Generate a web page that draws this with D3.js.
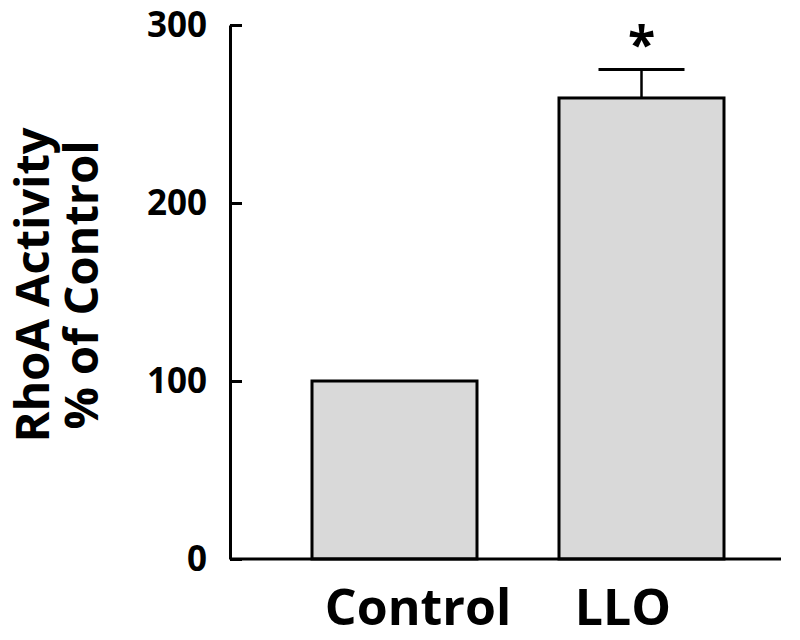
<!DOCTYPE html>
<html lang="en">
	<head>
		<meta charset="utf-8">
		<title>RhoA activity</title>
		<script src="https://cdn.jsdelivr.net/npm/d3@7"></script>
		<style>
			body { margin: 0; background: #fff; }
			text { font-family: "Open Sans", sans-serif; font-weight: bold; fill: #000; }
		</style>
	</head>
	<body>
		<script>
			var w = 800, h = 640;

			// data
			var groups = ["Control", "LLO"];
			var means = [100, 259];
			var errors = [0, 16];
			var marks = ["", "*"];
			var yTicks = [0, 100, 200, 300];

			var svg = d3.select("body").append("svg")
				.attr("width", w)
				.attr("height", h);

			var y = d3.scaleLinear().domain([0, 300]).range([559, 25]);
			var x = d3.scaleBand().domain(groups)
				.range([271, 765])
				.paddingInner(0.332)
				.paddingOuter(0.166);

			// bars
			svg.selectAll("rect.bar")
				.data(groups)
				.enter()
				.append("rect")
				.attr("class", "bar")
				.attr("x", function(d){ return x(d); })
				.attr("y", function(d, i){ return y(means[i]); })
				.attr("width", x.bandwidth())
				.attr("height", function(d, i){ return y(0) - y(means[i]); })
				.attr("fill", "#d9d9d9")
				.attr("stroke", "#000")
				.attr("stroke-width", 3);

			// error bars (upper only)
			groups.forEach(function(g, i){
				if (!errors[i]) return;
				var cx = x(g) + x.bandwidth()/2;
				svg.append("line")
					.attr("x1", cx).attr("x2", cx)
					.attr("y1", y(means[i])).attr("y2", y(means[i] + errors[i]))
					.attr("stroke", "#000").attr("stroke-width", 2.5);
				svg.append("line")
					.attr("x1", cx - 43).attr("x2", cx + 43)
					.attr("y1", y(means[i] + errors[i])).attr("y2", y(means[i] + errors[i]))
					.attr("stroke", "#000").attr("stroke-width", 3);
				svg.append("text")
					.attr("x", cx)
					.attr("y", y(means[i] + errors[i]) - 8)
					.attr("text-anchor", "middle")
					.attr("font-size", "50px")
					.text(marks[i]);
			});

			// y axis, ticks pointing inward
			var yAxis = d3.axisLeft(y)
				.tickValues(yTicks)
				.tickSizeInner(-12)
				.tickSizeOuter(0)
				.tickPadding(23);

			var gy = svg.append("g")
				.attr("transform", "translate(230,0)")
				.call(yAxis);
			gy.select(".domain").attr("stroke-width", 3);
			gy.selectAll(".tick line").attr("stroke-width", 3);
			gy.selectAll(".tick text")
				.attr("font-size", "35px")
				.attr("font-family", "'Open Sans', sans-serif")
				.attr("font-weight", "bold")
				.attr("fill", "#000");

			// baseline
			svg.append("line")
				.attr("x1", 230).attr("x2", 781)
				.attr("y1", y(0)).attr("y2", y(0))
				.attr("stroke", "#000").attr("stroke-width", 3);

			// group labels
			var labelX = [418, 623];
			svg.selectAll("text.xlab")
				.data(groups)
				.enter()
				.append("text")
				.attr("class", "xlab")
				.attr("x", function(d, i){ return labelX[i]; })
				.attr("y", 625)
				.attr("text-anchor", "middle")
				.attr("font-size", "50px")
				.text(function(d){ return d; });

			// y label
			var ylab = svg.append("text")
				.attr("transform", "translate(0,285) rotate(-90)")
				.attr("text-anchor", "middle")
				.attr("font-size", "47px");
			ylab.append("tspan").attr("x", 0).attr("y", 49).text("RhoA Activity");
			ylab.append("tspan").attr("x", 0).attr("y", 98).text("% of Control");
		</script>
	</body>
</html>
